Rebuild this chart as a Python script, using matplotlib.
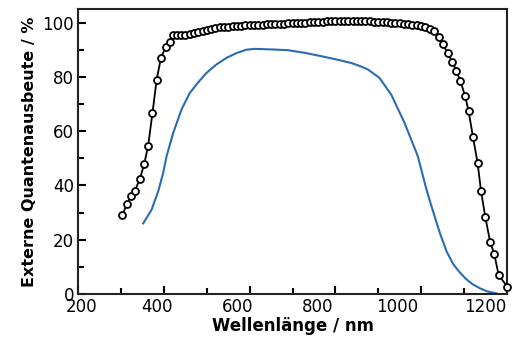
import matplotlib
matplotlib.use("Agg")
import matplotlib.pyplot as plt
from matplotlib.ticker import MultipleLocator
import matplotlib.transforms as mtransforms

eqe_x = [303, 313, 323, 332, 344, 354, 363, 373, 383, 393, 404, 414, 422,
         430, 440, 450, 460, 470, 480, 490, 500, 510, 520,
         530, 540, 550, 560, 570, 580, 590, 600, 610, 620,
         630, 640, 650, 660, 670, 680, 690, 700, 710, 720,
         730, 740, 750, 760, 770, 780, 790, 800, 810, 820,
         830, 840, 850, 860, 870, 880, 890, 900, 910, 920,
         930, 940, 950, 960, 970, 980, 990, 1000, 1010, 1020,
         1031, 1043, 1051, 1062, 1073, 1082, 1092, 1103, 1111, 1121, 1132,
         1140, 1150, 1161, 1171, 1181, 1201]
eqe_y = [29, 33, 36, 38, 42.5, 48, 54.5, 66.5, 79, 87, 91, 93, 95.5,
         95.5, 95.5, 95.5, 95.8, 96, 96.5, 97, 97.3, 97.6, 98,
         98.2, 98.4, 98.5, 98.6, 98.8, 98.9, 99, 99, 99.1, 99.2,
         99.2, 99.3, 99.3, 99.4, 99.5, 99.6, 99.7, 99.8, 99.9, 100,
         100, 100.1, 100.2, 100.3, 100.3, 100.4, 100.4, 100.5, 100.5, 100.5,
         100.5, 100.5, 100.5, 100.5, 100.4, 100.4, 100.3, 100.3, 100.2, 100.1,
         100, 99.9, 99.8, 99.6, 99.4, 99.2, 99, 98.7, 98.3, 97.8,
         97, 94.7, 92, 88.8, 85.5, 82.3, 78.4, 72.8, 67.3, 58, 48.2,
         37.8, 28.3, 19.3, 14.6, 7, 2.7]

blue_x = [351.5, 371, 386.5, 398, 406, 421.5, 441, 460, 480, 499, 522, 546,
          570, 592.5, 612, 650, 690, 730, 767, 805, 837, 860, 876, 903, 930.5,
          961.5, 992.5, 1010, 1021, 1044, 1060, 1075, 1090, 1105, 1120, 1137,
          1155, 1176]
blue_y = [26, 31, 37.8, 44.5, 50.7, 59.3, 68, 74, 78, 81.4, 84.5, 87,
          88.8, 90, 90.3, 90.1, 89.8, 88.8, 87.6, 86.3, 85.1, 83.8, 82.7, 79.6,
          73.4, 63, 50.7, 40, 34, 22.4, 15.5, 11, 8, 5.5, 3.6, 2.1,
          0.9, 0.2]

x_ticks = [200, 400, 600, 800, 1000, 1200]
y_ticks = [0, 20, 40, 60, 80, 100]
# horizontal drift of the printed x tick labels relative to their ticks (pixels)
x_label_shift = [3, -6.5, -12.5, -18, -23.5, -22]

fig = plt.figure(figsize=(5.15, 3.45), dpi=100)
ax = fig.add_axes([0.152, 0.148, 0.832, 0.826])

ax.plot(blue_x, blue_y, color="#2b6cb0", lw=1.5)
ax.plot(eqe_x, eqe_y, color="black", lw=1.3, marker="o", ms=5,
        mfc="white", mec="black", mew=1.3, clip_on=False, zorder=3)

ax.set_xlim(200, 1200)
ax.set_ylim(0, 105)
ax.set_xticks(x_ticks)
ax.set_yticks(y_ticks)
ax.xaxis.set_minor_locator(MultipleLocator(100))
ax.yaxis.set_minor_locator(MultipleLocator(10))
ax.tick_params(which="both", direction="in", width=1.5, labelsize=12, pad=3)
ax.tick_params(which="major", length=6)
ax.tick_params(which="minor", length=4)
for s in ax.spines.values():
    s.set_linewidth(1.5)
    s.set_color("#222222")

fig.canvas.draw()
for lab, dx in zip(ax.get_xticklabels(), x_label_shift):
    lab.set_transform(lab.get_transform() +
                      mtransforms.ScaledTranslation(dx / 100, 0, fig.dpi_scale_trans))

ax.set_xlabel("Wellenlänge / nm", fontsize=12, fontweight="bold", labelpad=1)
ax.set_ylabel("Externe Quantenausbeute / %", fontsize=11.5, fontweight="bold", labelpad=4)

fig.savefig("out.png", dpi=100)
